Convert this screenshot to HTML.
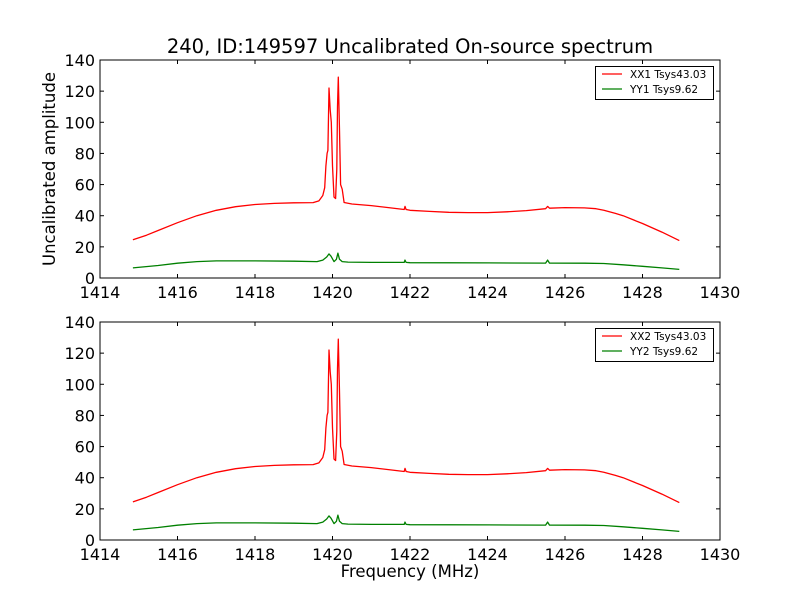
<!DOCTYPE html>
<html><head><meta charset="utf-8"><style>
body{margin:0;background:#fff;}
svg{display:block;font-family:"DejaVu Sans","Liberation Sans",sans-serif;}
</style></head><body>
<svg id="c" width="800" height="600"></svg>
<script>
const freqXX=[1414.85,1415.2,1415.5,1416,1416.5,1417,1417.5,1418,1418.5,1419,1419.5,1419.65,1419.75,1419.8,1419.83,1419.86,1419.88,1419.91,1419.94,1419.97,1420.0,1420.04,1420.08,1420.11,1420.13,1420.15,1420.18,1420.21,1420.25,1420.3,1420.5,1421,1421.5,1421.85,1421.87,1421.9,1422,1422.5,1423,1423.5,1424,1424.5,1425,1425.5,1425.55,1425.6,1426,1426.5,1426.8,1427,1427.3,1427.5,1427.8,1428,1428.5,1428.95];
const valXX=[24.5,27.5,30.5,35.5,40,43.5,45.8,47.2,47.9,48.3,48.4,49.5,53,58,72,80,82,122,108,100,72,52,51,70,110,129,95,60,57,48.5,47.5,46.5,45,44,46,44,43.5,42.8,42.2,42,42,42.5,43.3,44.5,46,44.8,45.2,45,44.5,43.5,41.5,40,37,35,29.5,24];
const freqYY=[1414.85,1415.5,1416,1416.5,1417,1418,1419,1419.6,1419.75,1419.85,1419.91,1419.96,1420.04,1420.1,1420.14,1420.18,1420.25,1420.4,1421,1421.85,1421.87,1421.9,1422,1424,1425.5,1425.55,1425.6,1426.5,1427,1427.5,1428,1428.5,1428.95];
const valYY=[6.5,8,9.5,10.5,11,11,10.8,10.5,11.5,13.5,15.5,14,10.5,12,16,12,10.5,10.2,10,10,11.5,10,9.8,9.7,9.6,11.5,9.6,9.5,9.3,8.5,7.5,6.5,5.5];
const xTicks=[1414,1416,1418,1420,1422,1424,1426,1428,1430];
const yTicks=[0,20,40,60,80,100,120,140];
const panels=[{top:60,names:["XX1 Tsys43.03","YY1 Tsys9.62"]},{top:322,names:["XX2 Tsys43.03","YY2 Tsys9.62"]}];
const svg=document.getElementById('c');
const NS="http://www.w3.org/2000/svg";
function mk(t,a,p){const e=document.createElementNS(NS,t);for(const k in a)e.setAttribute(k,a[k]);(p||svg).appendChild(e);return e;}
const L=100,R=720,H=218;
const sx=v=>L+(v-1414)/16*(R-L);
panels.forEach((p,pi)=>{
  const sy=v=>p.top+H-v/140*H;
  const g=mk('g',{});
  
  
  function line(fr,vals,col,name){
    const d=fr.map((f,i)=>(i?'L':'M')+sx(f).toFixed(1)+','+sy(vals[i]).toFixed(1)).join('');
    const pa=mk('path',{d:d,fill:'none',stroke:col,'stroke-width':1.3,'stroke-linejoin':'round'},g);
    
    
  }
  line(freqXX,valXX,'#ff0000','series-xx');
  line(freqYY,valYY,'#008000','series-yy');
  const fr=mk('rect',{x:L,y:p.top,width:R-L,height:H,fill:'none',stroke:'#000','stroke-width':1},g);
  
  
  xTicks.forEach(t=>{
    const x=sx(t);
    mk('line',{x1:x,x2:x,y1:p.top+H,y2:p.top+H-4,stroke:'#000'},g);
    mk('line',{x1:x,x2:x,y1:p.top,y2:p.top+4,stroke:'#000'},g);
    const tx=mk('text',{x:x,y:p.top+H+20,'text-anchor':'middle','font-size':16},g);
    tx.textContent=t;
    
    
  });
  yTicks.forEach(t=>{
    const y=sy(t);
    mk('line',{x1:L,x2:L+4,y1:y,y2:y,stroke:'#000'},g);
    mk('line',{x1:R,x2:R-4,y1:y,y2:y,stroke:'#000'},g);
    const tx=mk('text',{x:L-5,y:y+6,'text-anchor':'end','font-size':16},g);
    tx.textContent=t;
    
    
  });
  const lg=mk('g',{},g);
  
  
  mk('rect',{x:595.5,y:p.top+6.5,width:118,height:33,fill:'#fff',stroke:'#000'},lg);
  [['#ff0000',0],['#008000',1]].forEach(([c,i])=>{
    const yy=p.top+14+i*15;
    mk('line',{x1:602,x2:622,y1:yy,y2:yy,stroke:c,'stroke-width':1.2},lg);
    const tx=mk('text',{x:630,y:yy+4,'font-size':10.5},lg);
    tx.textContent=p.names[i];
    
    
  });
});
const t=mk('text',{x:410,y:53,'text-anchor':'middle','font-size':19.5});
t.textContent="240, ID:149597 Uncalibrated On-source spectrum";


const yl=mk('text',{x:0,y:0,'text-anchor':'middle','font-size':16.5,transform:'translate(55,169) rotate(-90)'});
yl.textContent="Uncalibrated amplitude";


const xl=mk('text',{x:410,y:577,'text-anchor':'middle','font-size':16.5});
xl.textContent="Frequency (MHz)";


</script>
</body></html>
